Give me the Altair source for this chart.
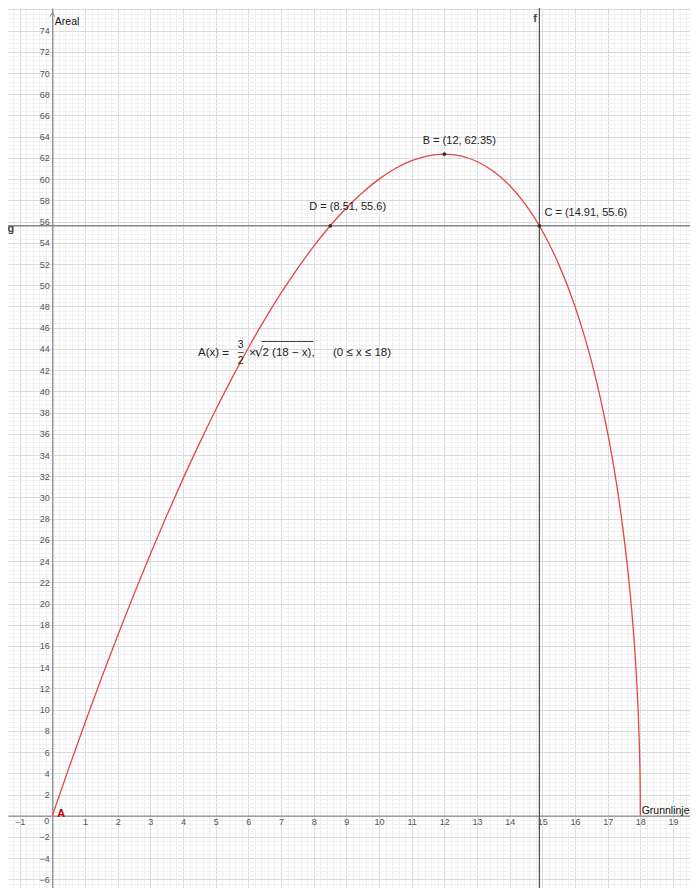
import altair as alt
import pandas as pd

# ---- data ----
curve_x = [0, 0.5, 1, 1.5, 2, 2.5, 3, 3.5, 4, 4.5, 5, 5.5, 6, 6.5, 7, 7.5, 8, 8.5, 9,
           9.5, 10, 10.5, 11, 11.5, 12, 12.5, 13, 13.5, 14, 14.5, 15, 15.5, 16, 16.25,
           16.5, 16.75, 17, 17.2, 17.4, 17.6, 17.7, 17.8, 17.9, 17.95, 17.98, 17.995, 18]
curve_y = [0, 4.44, 8.75, 12.93, 16.97, 20.88, 24.65, 28.27, 31.75, 35.07, 38.24, 41.25,
           44.09, 46.76, 49.25, 51.55, 53.67, 55.58, 57.28, 58.75, 60.0, 61.0, 61.74,
           62.2, 62.35, 62.19, 61.66, 60.75, 59.4, 57.54, 55.11, 51.99, 48.0, 45.6,
           42.87, 39.72, 36.06, 32.64, 28.59, 23.61, 20.57, 16.88, 12.01, 8.51, 5.39,
           2.7, 0]

pt_x = [12, 14.91, 8.51]
pt_y = [62.35, 55.6, 55.6]
pt_labels = ["B = (12, 62.35)", "C = (14.91, 55.6)", "D = (8.51, 55.6)"]

f_x = [14.91]
g_y = [55.6]

x_labels = [-1] + list(range(1, 20))
y_labels = [v for v in range(-6, 76, 2) if v != 0]
x_major = list(range(-1, 20))
y_major = list(range(-6, 77, 2))
x_minor = [round(-1.2 + 0.2 * i, 2) for i in range(105)]
y_minor = [round(-6.8 + 0.4 * i, 2) for i in range(210)]

XDOM = [-1.356, 19.52]
YDOM = [-6.81, 76.13]

# ---- styling ----
RED = "#e04848"
FONT = "Liberation Sans"
xs = alt.Scale(domain=XDOM, nice=False, zero=False)
ys = alt.Scale(domain=YDOM, nice=False, zero=False)

curve_df = pd.DataFrame({"x": curve_x, "y": curve_y})
pts_df = pd.DataFrame({"x": pt_x, "y": pt_y, "label": pt_labels})


def grid_axis(values, color, orient):
    return alt.Axis(values=values, grid=True, gridColor=color, gridWidth=1, orient=orient,
                    labels=False, ticks=False, domain=False, title=None)


minor = alt.Chart(curve_df).mark_line(opacity=0).encode(
    x=alt.X("x:Q", scale=xs, axis=grid_axis(x_minor, "#f0f0f0", "bottom")),
    y=alt.Y("y:Q", scale=ys, axis=grid_axis(y_minor, "#f0f0f0", "left")),
)

major = alt.Chart(curve_df).mark_line(opacity=0).encode(
    x=alt.X("x:Q", scale=xs, axis=grid_axis(x_major, "#dadada", "bottom")),
    y=alt.Y("y:Q", scale=ys, axis=grid_axis(y_major, "#dadada", "left")),
)

labeled = alt.Chart(pts_df).mark_point(opacity=0).encode(
    x=alt.X("x:Q", scale=xs, axis=alt.Axis(
        orient="bottom", values=x_labels, grid=False, ticks=False, tickSize=0, domain=True,
        domainColor="#8a8a8a", domainWidth=1.3, labelFont=FONT, labelFontSize=9,
        labelColor="#555555", labelPadding=2, labelAngle=0, labelOverlap=False,
        labelFlush=False, offset=-72.3, title=None)),
    y=alt.Y("y:Q", scale=ys, axis=alt.Axis(
        orient="left", values=y_labels, grid=False, ticks=False, tickSize=0, domain=True,
        domainColor="#8a8a8a", domainWidth=1.3, labelFont=FONT, labelFontSize=9,
        labelColor="#555555", labelPadding=3, labelOverlap=False,
        labelFlush=False, offset=-44.3, title=None)),
)

curve = alt.Chart(curve_df).mark_line(color=RED, strokeWidth=1.3, interpolate="monotone").encode(
    x=alt.X("x:Q", scale=xs, axis=None),
    y=alt.Y("y:Q", scale=ys, axis=None),
)

f_line = alt.Chart(pd.DataFrame({"x": f_x})).mark_rule(color="#555555", strokeWidth=1.3).encode(
    x=alt.X("x:Q", scale=xs, axis=None)
)
g_line = alt.Chart(pd.DataFrame({"y": g_y})).mark_rule(color="#8a8a8a", strokeWidth=1.6).encode(
    y=alt.Y("y:Q", scale=ys, axis=None)
)

points = alt.Chart(pts_df).mark_circle(color="#333333", size=14, opacity=1).encode(
    x=alt.X("x:Q", scale=xs, axis=None),
    y=alt.Y("y:Q", scale=ys, axis=None),
)


def text_layer(x, y, text, dx=0, dy=0, align="left", size=11, color="#222222",
               weight="normal", font=FONT):
    df = pd.DataFrame({"x": [x], "y": [y], "t": [text]})
    return alt.Chart(df).mark_text(
        align=align, baseline="middle", dx=dx, dy=dy, fontSize=size, color=color,
        fontWeight=weight, font=font
    ).encode(
        x=alt.X("x:Q", scale=xs, axis=None),
        y=alt.Y("y:Q", scale=ys, axis=None),
        text="t:N",
    )


texts = [
    text_layer(pt_x[0], pt_y[0], pt_labels[0], dx=-21.6, dy=-13.5),
    text_layer(pt_x[1], pt_y[1], pt_labels[1], dx=5, dy=-13),
    text_layer(pt_x[2], pt_y[2], pt_labels[2], dx=-21, dy=-18.5),
    text_layer(0, 0, "A", dx=5, dy=-1.5, color="#cc0000", weight="bold"),
    text_layer(0, 0, "0", dx=-3, dy=5.5, align="right", size=9, color="#555555"),
    text_layer(0, YDOM[1], "Areal", dx=2.5, dy=13.6, size=10.5, color="#111111"),
    text_layer(XDOM[1], 0, "Grunnlinje", dx=-0.5, dy=-4.7, align="right", size=10.5,
               color="#111111"),
    text_layer(f_x[0], YDOM[1], "f", dx=-4.4, dy=11, align="center", size=11,
               color="#444444", weight="bold"),
    text_layer(XDOM[0], g_y[0], "g", dx=-0.5, dy=3.5, size=11, color="#444444",
               weight="bold"),
]

# formula A(x) = 3/2 × √(2 (18 − x)),  (0 ≤ x ≤ 18)
fx, fy = 4.46, 43.58
formula = [
    text_layer(fx, fy, "A(x)", dx=0, size=11.5),
    text_layer(fx, fy, "=", dx=24, size=12),
    text_layer(fx, fy, "3", dx=42.7, dy=-8.5, align="center", size=10.5),
    text_layer(fx, fy, "\u2500", dx=42.7, dy=0, align="center", size=9, font="DejaVu Sans"),
    text_layer(fx, fy, "2", dx=42.7, dy=8, align="center", size=10.5),
    text_layer(fx, fy, "\u00d7", dx=51, size=12),
    text_layer(fx, fy, "\u221a", dx=56.5, dy=-0.5, size=14, font="DejaVu Sans"),
    text_layer(fx, fy, "\u203e" * 9, dx=63.5, dy=-5, size=11.5, font="DejaVu Sans",
               color="#333333"),
    text_layer(fx, fy, "2 (18 \u2212 x),", dx=64.5, size=11.5),
    text_layer(fx, fy, "(0 \u2264 x \u2264 18)", dx=135, size=11.5),
]

arrow = alt.Chart(pd.DataFrame({"x": [0]})).mark_point(
    shape="M-1,0.8L0,-0.8L1,0.8", size=25, filled=False, color="#8a8a8a", strokeWidth=1,
    opacity=1
).encode(
    x=alt.X("x:Q", scale=xs, axis=None),
    y=alt.value(6.8),
)

chart = alt.layer(
    minor, major, labeled, g_line, f_line, curve, points, arrow, *texts, *formula
).resolve_axis(x="independent", y="independent").properties(
    width=682, height=880, padding=0, autosize=alt.AutoSizeParams(type="none"),
    background="white"
).configure_view(stroke=None)

chart.save("out.html", embed_options={"renderer": "svg", "actions": False})
